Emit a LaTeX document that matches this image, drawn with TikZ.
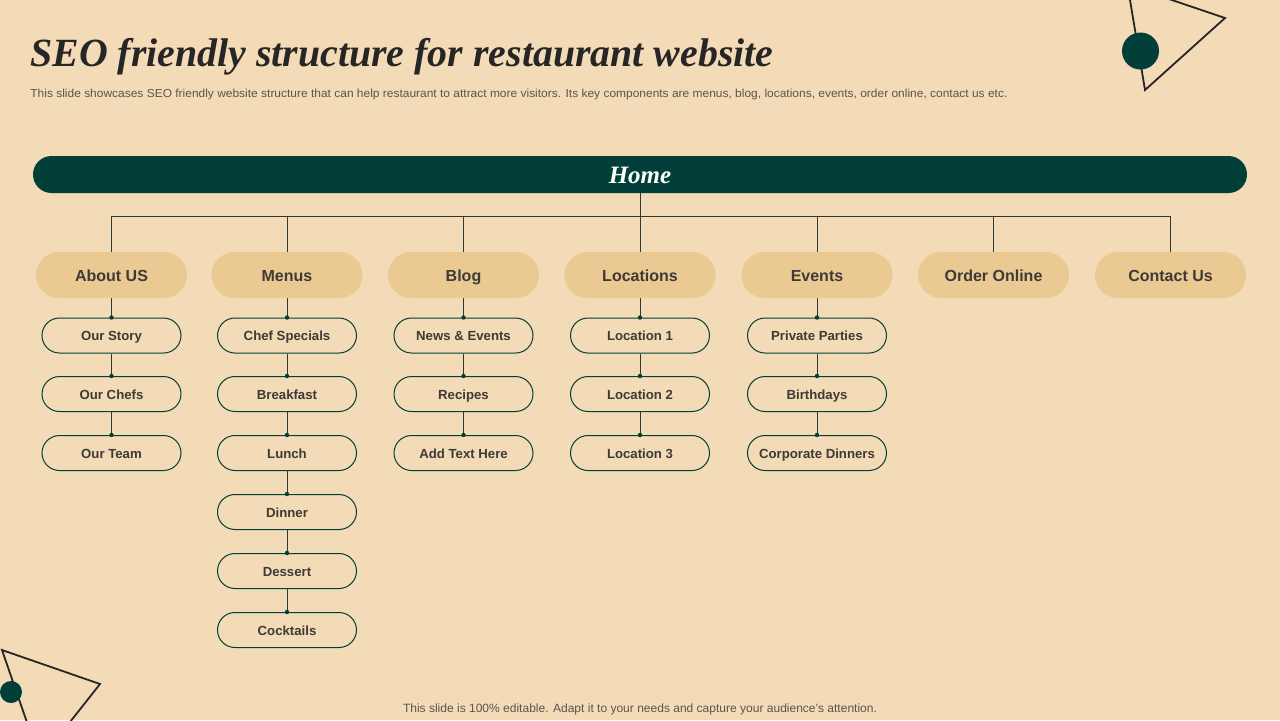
\documentclass[tikz,border=0pt]{standalone}
\usepackage{fontspec}
\usepackage{graphicx}
\setmainfont{Liberation Sans}
\newfontfamily\titlefont{Liberation Serif}
\definecolor{bg}{HTML}{F2DBB6}
\definecolor{dkgreen}{HTML}{013F38}
\definecolor{pill}{HTML}{EBC993}
\definecolor{txt}{HTML}{3E3A36}
\definecolor{line}{HTML}{2E3A32}
\definecolor{gray}{HTML}{5A5550}
\begin{document}
\begin{tikzpicture}[x=0.5pt,y=-0.5pt,
  homebar/.style={draw=none,fill=dkgreen,minimum width=607pt,minimum height=18.5pt,rounded corners=9.25pt,inner sep=0pt,text=white,text height=8.5pt,text depth=0pt,font=\titlefont\bfseries\itshape\fontsize{12.5}{14}\selectfont},
  cat/.style={draw=none,fill=pill,minimum width=75.5pt,minimum height=23pt,rounded corners=11.5pt,inner sep=0pt,text=txt,text height=7.2pt,text depth=0.4pt,font=\bfseries\fontsize{8.0}{10}\selectfont},
  sub/.style={draw=dkgreen,line width=0.5pt,minimum width=69.5pt,minimum height=17.5pt,rounded corners=8.75pt,inner sep=0pt,text=txt,text height=5.6pt,text depth=0.2pt,font=\bfseries\fontsize{6.6}{8}\selectfont},
  conn/.style={draw=line,line width=0.5pt},
  dot/.style={fill=dkgreen},
  deco/.style={draw=black!85,line width=0.9pt}
]
\useasboundingbox[fill=bg] (0,0) rectangle (1280,720);
% decorations
\begin{scope}
\clip (0,0) rectangle (1280,720);
\draw[deco] (1127.5,-15) -- (1145,90) -- (1225,18) -- cycle;
\fill[dkgreen] (1140.5,51) circle[radius=18.5];
\draw[deco] (2,650) -- (100,684) -- (40,760) -- cycle;
\fill[dkgreen] (11,692) circle[radius=11];
\end{scope}
% title
\node[anchor=base west,inner sep=0pt,text=black!85] (title) at (30,66) {\resizebox{371.5pt}{\height}{\titlefont\bfseries\itshape\fontsize{20}{24}\selectfont SEO friendly structure for restaurant website}};
\node[anchor=base west,inner sep=0pt,text=gray] (subtitle) at (30,97) {\resizebox{488.5pt}{\height}{\fontsize{5.8}{7}\selectfont This slide showcases SEO friendly website structure that can help restaurant to attract more visitors. Its key components are menus, blog, locations, events, order online, contact us etc.}};
\node[anchor=base,inner sep=0pt,text=gray] (footer) at (640,712) {\resizebox{237pt}{\height}{\fontsize{6}{7}\selectfont This slide is 100\% editable. Adapt it to your needs and capture your audience's attention.}};
% home
\node[homebar] (home) at (640,174.5) {Home};
\coordinate (hb) at (640,216);
% categories
\node[cat] (c1) at (111.5,275) {About US};
\node[cat] (c2) at (287,275) {Menus};
\node[cat] (c3) at (463.5,275) {Blog};
\node[cat] (c4) at (640,275) {Locations};
\node[cat] (c5) at (817,275) {Events};
\node[cat] (c6) at (993.5,275) {Order Online};
\node[cat] (c7) at (1170.5,275) {Contact Us};
\draw[conn] (home.south) -- (hb);
\draw[conn] (c1.north |- hb) -- (c7.north |- hb);
\foreach \c in {c1,c2,c3,c4,c5,c6,c7} {\draw[conn] (\c.north) -- (\c.north |- hb);}
% sub items
\node[sub] (a1) at (111.5,335.5) {Our Story};
\node[sub] (a2) at (111.5,394) {Our Chefs};
\node[sub] (a3) at (111.5,453) {Our Team};
\node[sub] (m1) at (287,335.5) {Chef Specials};
\node[sub] (m2) at (287,394) {Breakfast};
\node[sub] (m3) at (287,453) {Lunch};
\node[sub] (m4) at (287,512) {Dinner};
\node[sub] (m5) at (287,571) {Dessert};
\node[sub] (m6) at (287,630) {Cocktails};
\node[sub] (b1) at (463.5,335.5) {News \& Events};
\node[sub] (b2) at (463.5,394) {Recipes};
\node[sub] (b3) at (463.5,453) {Add Text Here};
\node[sub] (l1) at (640,335.5) {Location 1};
\node[sub] (l2) at (640,394) {Location 2};
\node[sub] (l3) at (640,453) {Location 3};
\node[sub] (e1) at (817,335.5) {Private Parties};
\node[sub] (e2) at (817,394) {Birthdays};
\node[sub] (e3) at (817,453) {Corporate Dinners};
\foreach \p/\q in {c1/a1,a1/a2,a2/a3,c2/m1,m1/m2,m2/m3,m3/m4,m4/m5,m5/m6,c3/b1,b1/b2,b2/b3,c4/l1,l1/l2,l2/l3,c5/e1,e1/e2,e2/e3} {
  \draw[conn] (\p.south) -- (\q.north);
  \fill[dot] (\q.north) circle[radius=2.2];
}
\end{tikzpicture}
\end{document}
